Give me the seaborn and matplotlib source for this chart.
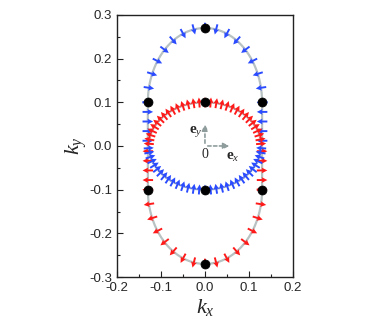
import numpy as np
import pandas as pd
import matplotlib
matplotlib.use("Agg")
import matplotlib.pyplot as plt
import seaborn as sns

# Fermi contour parameters
outer_half_width = 0.13   # kx of the straight sides of the outer contour
outer_cap_height = 0.17   # height of the elliptical caps (top at 0.27)
outer_side_half = 0.10    # straight sides run from -0.1 to 0.1
inner_half_width = 0.128
inner_half_height = 0.10

# high-symmetry points (black dots)
dot_kx = [0.0, -0.13, 0.0, 0.13, -0.13, 0.0, 0.13, 0.0]
dot_ky = [0.27, 0.10, 0.10, 0.10, -0.10, -0.10, -0.10, -0.27]

# number of spin arrows per segment
n_cap_arrows = 17
n_side_arrows = 5
n_inner_arrows = 31

ticks = [-0.2, -0.1, 0.0, 0.1, 0.2]
yticks = [-0.3, -0.2, -0.1, 0.0, 0.1, 0.2, 0.3]

blue = "#2a4bff"
red = "#ff1a1a"
line_gray = "#b9c2c2"
axis_gray = "#8f9c9c"

sns.set_style("ticks")
plt.rcParams["font.family"] = ["Liberation Sans", "DejaVu Sans"]
plt.rcParams["mathtext.fontset"] = "custom"
plt.rcParams["mathtext.it"] = "Liberation Serif:italic"
plt.rcParams["mathtext.rm"] = "Liberation Serif"
plt.rcParams["mathtext.bf"] = "Liberation Serif:bold"

fig = plt.figure(figsize=(3.74, 3.31), dpi=100)
ax = fig.add_axes([0.313, 0.163, 0.47, 0.792])


def cap(sign, t):
    c = sign * outer_side_half
    x = outer_half_width * np.cos(t)
    y = c + sign * outer_cap_height * np.sin(t)
    nx = np.cos(t) / outer_half_width
    ny = sign * np.sin(t) / outer_cap_height
    n = np.hypot(nx, ny)
    return x, y, nx / n, ny / n


def inner(t):
    x = inner_half_width * np.cos(t)
    y = inner_half_height * np.sin(t)
    nx = np.cos(t) / inner_half_width
    ny = np.sin(t) / inner_half_height
    n = np.hypot(nx, ny)
    return x, y, nx / n, ny / n


# gray contour lines
t = np.linspace(0, np.pi, 200)
xu, yu, _, _ = cap(1, t)
xl, yl, _, _ = cap(-1, t)
outer_line = pd.DataFrame({
    "kx": np.concatenate([xu, xl[::-1], [xu[0]]]),
    "ky": np.concatenate([yu, yl[::-1], [yu[0]]]),
})
ti = np.linspace(0, 2 * np.pi, 300)
xi, yi, _, _ = inner(ti)
inner_line = pd.DataFrame({"kx": xi, "ky": yi})
sns.lineplot(data=outer_line, x="kx", y="ky", sort=False, estimator=None,
             color=line_gray, lw=1.6, ax=ax)
sns.lineplot(data=inner_line, x="kx", y="ky", sort=False, estimator=None,
             color=line_gray, lw=1.6, ax=ax)


def arrows(x, y, ux, uy, color, length):
    ax.quiver(x, y, ux * length, uy * length, color=color, angles="xy",
              scale_units="xy", scale=1, pivot="middle", width=0.011,
              headwidth=3.0, headlength=3.0, headaxislength=2.6, zorder=3)


# outer contour: blue on the upper half, red on the lower half
tc = np.linspace(0, np.pi, n_cap_arrows)
ys = np.linspace(outer_side_half, 0.012, n_side_arrows)
for sign, color in [(1, blue), (-1, red)]:
    x, y, nx, ny = cap(sign, tc)
    sx = np.concatenate([x, -outer_half_width * np.ones_like(ys),
                         outer_half_width * np.ones_like(ys)])
    sy = np.concatenate([y, sign * ys, sign * ys])
    snx = np.concatenate([nx, -np.ones_like(ys), np.ones_like(ys)])
    sny = np.concatenate([ny, np.zeros_like(ys), np.zeros_like(ys)])
    d = -1 if sign > 0 else 1
    arrows(sx, sy, d * snx, d * sny, color, 0.024)

# inner contour: red on the upper half, blue on the lower half
tu = np.linspace(0.05, np.pi - 0.05, n_inner_arrows)
x, y, nx, ny = inner(tu)
arrows(x, y, nx, ny, red, 0.023)
x, y, nx, ny = inner(-tu)
arrows(x, y, -nx, -ny, blue, 0.023)

# high-symmetry points
sns.scatterplot(x=dot_kx, y=dot_ky, color="black", s=42, edgecolor="black",
                zorder=4, ax=ax)

# unit vectors at the origin
ax.annotate("", xy=(0.0, 0.056), xytext=(0.0, 0.0),
            arrowprops=dict(arrowstyle="-|>", color=axis_gray, lw=1.2,
                            ls=(0, (2, 1.5)), mutation_scale=9))
ax.annotate("", xy=(0.062, 0.0), xytext=(0.0, 0.0),
            arrowprops=dict(arrowstyle="-|>", color=axis_gray, lw=1.2,
                            ls=(0, (2, 1.5)), mutation_scale=9))
ax.text(-0.005, 0.032, r"$\mathbf{e}_y$", fontsize=11, ha="right", va="center")
ax.text(0.0, -0.004, "0", fontsize=10, ha="center", va="top",
        family="Liberation Serif")
ax.text(0.047, -0.026, r"$\mathbf{e}_x$", fontsize=11, ha="left", va="center")

ax.set_xlim(-0.2, 0.2)
ax.set_ylim(-0.3, 0.3)
ax.set_xticks(ticks)
ax.set_yticks(yticks)
ax.set_xticklabels([f"{v:.1f}" for v in ticks])
ax.set_yticklabels([f"{v:.1f}" for v in yticks])
ax.set_xticks(np.arange(-0.15, 0.2, 0.1), minor=True)
ax.set_yticks(np.arange(-0.25, 0.3, 0.1), minor=True)
ax.tick_params(which="both", direction="in", labelsize=9.5, color="#222222")
ax.tick_params(which="major", length=4, width=0.8)
ax.tick_params(which="minor", length=2.5, width=0.8)
for s in ax.spines.values():
    s.set_linewidth(1.0)
    s.set_color("#222222")
    s.set_visible(True)
ax.set_xlabel(r"$k_x$", fontsize=16, labelpad=2)
ax.set_ylabel(r"$k_y$", fontsize=16, labelpad=0)

fig.savefig("out.png", dpi=100)
